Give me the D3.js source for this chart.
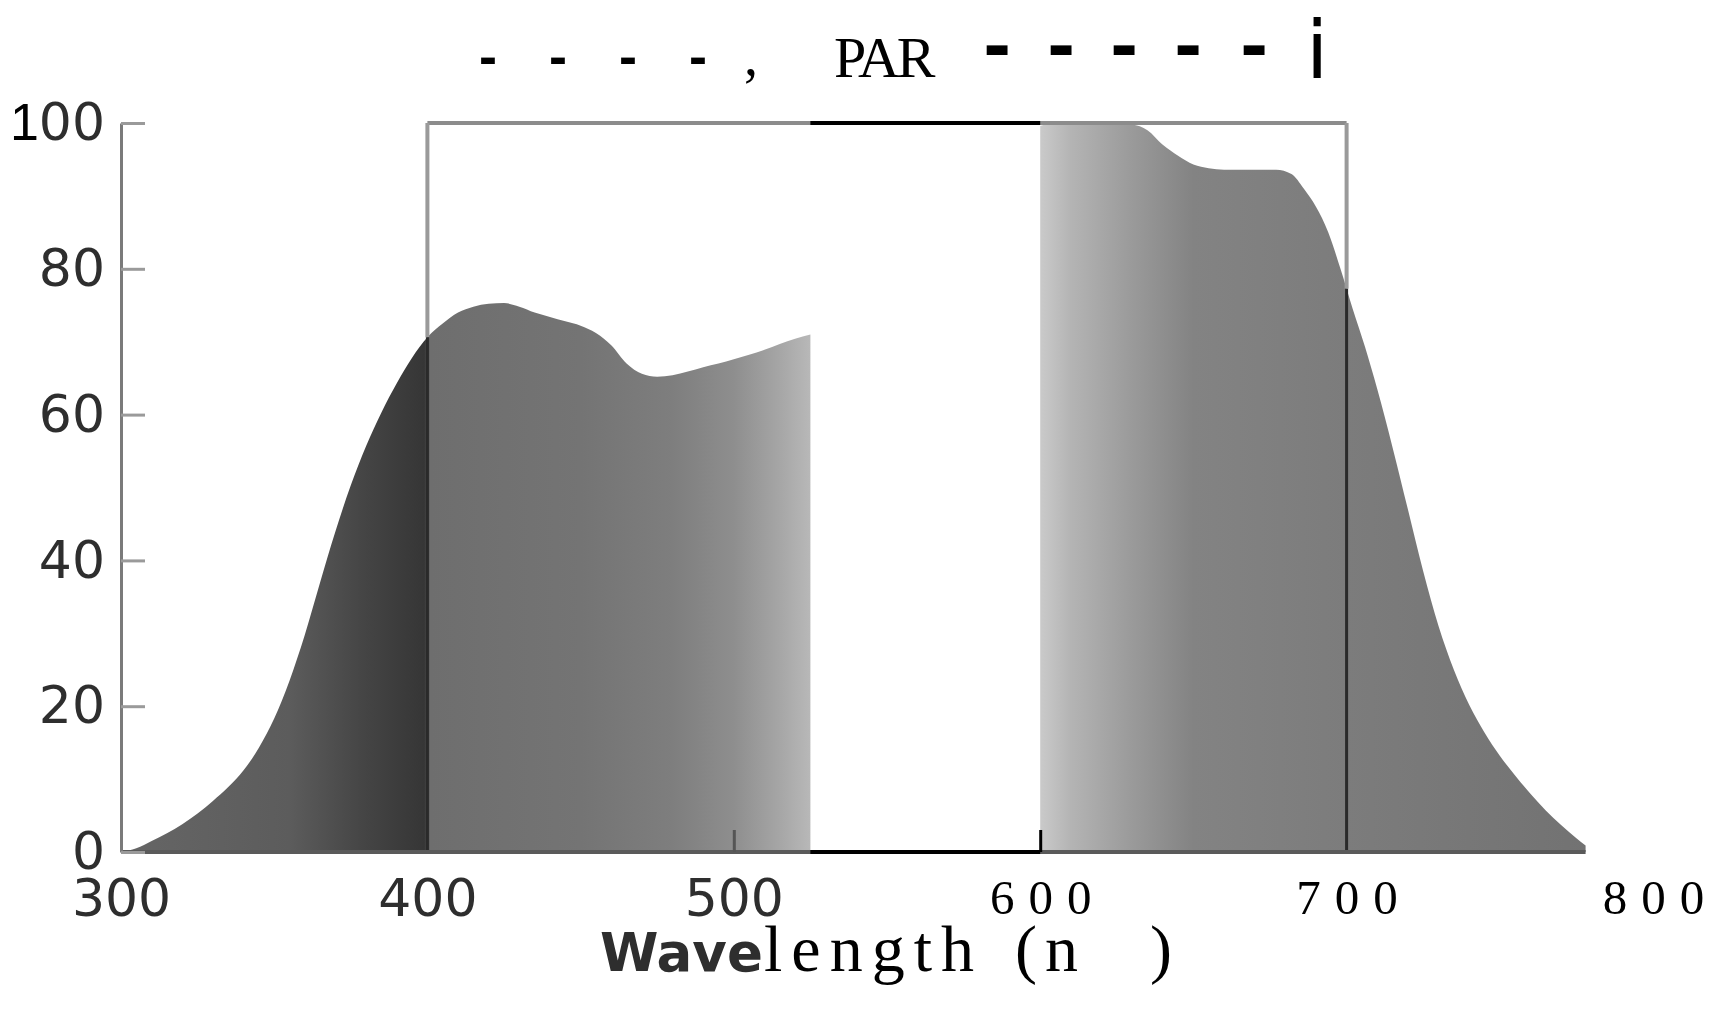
<!DOCTYPE html>
<html lang="en">
  <head>
    <meta charset="utf-8" />
    <script src="https://d3js.org/d3.v7.min.js"></script>
    <style>
      body {
        margin: 0;
        background: white;
      }
    </style>
    <title>PAR</title>
  </head>

  <body>
    <svg id="chart" width="1725" height="1016"></svg>

    <script>
      // left band (300-525 nm) and right band (600-778 nm), values in %
      const leftNm = [300, 305, 310, 320, 330, 335, 340, 345, 350, 355, 360, 365, 370, 375, 380, 385, 390, 395, 400, 405, 410, 415, 420, 425, 430, 435, 440, 445, 450, 455, 460, 465, 470, 475, 480, 485, 490, 495, 500, 505, 510, 515, 520, 525];
      const leftVal = [0, 0.5, 1.5, 3.8, 7, 8.9, 11.2, 14.3, 18.3, 23.5, 29.8, 37, 44, 50.3, 55.7, 60.3, 64.3, 67.8, 70.6, 72.5, 74, 74.8, 75.2, 75.3, 74.8, 74, 73.4, 72.8, 72.2, 71.2, 69.5, 67, 65.6, 65.2, 65.4, 65.9, 66.5, 67, 67.6, 68.2, 68.9, 69.7, 70.4, 71];
      const rightNm = [600, 605, 610, 620, 630, 635, 640, 645, 650, 655, 660, 670, 677, 682, 686, 690, 694, 698, 702, 706, 710, 715, 720, 725, 730, 735, 740, 745, 750, 755, 760, 765, 770, 775, 778];
      const rightVal = [99.6, 100, 100, 100, 99.8, 99, 97, 95.5, 94.3, 93.8, 93.6, 93.6, 93.6, 93, 91, 88.5, 85, 80, 74.5, 69.3, 63.5, 55.5, 47, 38.5, 31, 25, 20.2, 16.4, 13.2, 10.5, 8, 5.7, 3.7, 1.9, 0.9];

      const yTicks = [0, 20, 40, 60, 80, 100];
      const xTicks = [300, 400, 500, 600, 700, 800];
      const parBand = [400, 700];
      const gapBand = [525, 600];

      const svg = d3.select("svg#chart");

      const x = d3.scaleLinear().domain([300, 800]).range([121, 1653]);
      const y = d3.scaleLinear().domain([0, 100]).range([852, 123]);

      // horizontal shading of the fill
      const shade = [
        [300, "#666666"],
        [355, "#5c5c5c"],
        [380, "#444444"],
        [399, "#363636"],
        [401, "#6e6e6e"],
        [450, "#747474"],
        [480, "#7e7e7e"],
        [500, "#8e8e8e"],
        [515, "#a6a6a6"],
        [525, "#b8b8b8"],
        [600, "#cacaca"],
        [610, "#b4b4b4"],
        [630, "#9a9a9a"],
        [650, "#838383"],
        [700, "#7c7c7c"],
        [780, "#727272"],
      ];
      const grad = svg
        .append("defs")
        .append("linearGradient")
        .attr("id", "fillGrad")
        .attr("gradientUnits", "userSpaceOnUse")
        .attr("x1", x(300))
        .attr("x2", x(780))
        .attr("y1", 0)
        .attr("y2", 0);
      grad
        .selectAll("stop")
        .data(shade)
        .join("stop")
        .attr("offset", d => (d[0] - 300) / 480)
        .attr("stop-color", d => d[1]);

      const area = d3
        .area()
        .x(d => x(d[0]))
        .y0(y(0))
        .y1(d => y(d[1]))
        .curve(d3.curveMonotoneX);

      const leftData = leftNm.map((n, i) => [n, leftVal[i]]);
      const rightData = rightNm.map((n, i) => [n, rightVal[i]]);

      [leftData, rightData].forEach(seg => {
        svg
          .append("path")
          .datum(seg)
          .attr("fill", "url(#fillGrad)")
          .attr("d", area);
      });

      // value of the curve at a wavelength (linear between read points)
      const valAt = nm => {
        const seg = nm < 600 ? leftData : rightData;
        const i = d3.bisector(d => d[0]).left(seg, nm);
        if (seg[i][0] === nm || i === 0) return seg[i][1];
        const a = seg[i - 1],
          b = seg[i];
        return a[1] + ((nm - a[0]) / (b[0] - a[0])) * (b[1] - a[1]);
      };

      // PAR frame: top line + side lines
      svg
        .append("line")
        .attr("x1", x(parBand[0]))
        .attr("x2", x(parBand[1]))
        .attr("y1", y(100))
        .attr("y2", y(100))
        .attr("stroke", "#8c8c8c")
        .attr("stroke-width", 4);
      svg
        .append("line")
        .attr("x1", x(gapBand[0]))
        .attr("x2", x(gapBand[1]))
        .attr("y1", y(100))
        .attr("y2", y(100))
        .attr("stroke", "black")
        .attr("stroke-width", 4);

      parBand.forEach(nm => {
        svg
          .append("line")
          .attr("x1", x(nm))
          .attr("x2", x(nm))
          .attr("y1", y(100))
          .attr("y2", y(valAt(nm)))
          .attr("stroke", "#9a9a9a")
          .attr("stroke-width", 4);
        svg
          .append("line")
          .attr("x1", x(nm))
          .attr("x2", x(nm))
          .attr("y1", y(valAt(nm)))
          .attr("y2", y(0))
          .attr("stroke", "#2a2a2a")
          .attr("stroke-width", 3);
      });

      // baseline
      svg
        .append("line")
        .attr("x1", x(300))
        .attr("x2", x(778))
        .attr("y1", y(0))
        .attr("y2", y(0))
        .attr("stroke", "#5a5a5a")
        .attr("stroke-width", 4);
      svg
        .append("line")
        .attr("x1", x(gapBand[0]))
        .attr("x2", x(gapBand[1]))
        .attr("y1", y(0))
        .attr("y2", y(0))
        .attr("stroke", "black")
        .attr("stroke-width", 4);

      // y axis
      const yAxisG = svg
        .append("g")
        .attr("transform", `translate(${x(300)},0)`)
        .call(
          d3
            .axisLeft(y)
            .tickValues(yTicks)
            .tickSizeInner(-24)
            .tickSizeOuter(0)
            .tickPadding(16)
        );
      yAxisG.select(".domain").attr("stroke", "#7a7a7a").attr("stroke-width", 3);
      yAxisG.selectAll(".tick line").attr("stroke", "#9a9a9a").attr("stroke-width", 3);
      yAxisG
        .selectAll(".tick text")
        .attr("font-family", "DejaVu Sans")
        .attr("font-size", 52)
        .attr("fill", "#2e2e2e");
      yAxisG
        .selectAll(".tick text")
        .filter(d => d === 100)
        .text(null)
        .call(t => {
          t.append("tspan").attr("fill", "black").attr("font-family", "Liberation Sans").text("1");
          t.append("tspan").text("00");
        });

      // x axis
      const xAxisG = svg
        .append("g")
        .attr("transform", `translate(0,${y(0)})`)
        .call(
          d3
            .axisBottom(x)
            .tickValues(xTicks)
            .tickSizeInner(-22)
            .tickSizeOuter(0)
            .tickPadding(27)
            .tickFormat(d3.format("d"))
        );
      xAxisG.select(".domain").remove();
      xAxisG
        .selectAll(".tick line")
        .attr("stroke", d => (d === 600 ? "black" : "#555"))
        .attr("stroke-width", 3)
        .attr("opacity", d => (d === 500 || d === 600 ? 1 : 0));
      xAxisG
        .selectAll(".tick text")
        .filter(d => d < 600)
        .attr("font-family", "DejaVu Sans")
        .attr("font-size", 52)
        .attr("fill", "#2e2e2e");
      xAxisG
        .selectAll(".tick text")
        .filter(d => d >= 600)
        .attr("font-family", "Liberation Serif")
        .attr("font-size", 49)
        .attr("letter-spacing", 14)
        .attr("dx", 7)
        .attr("fill", "black");

      // x axis title
      svg
        .append("text")
        .attr("x", 600)
        .attr("y", 971)
        .attr("font-family", "DejaVu Sans")
        .attr("font-weight", "bold")
        .attr("font-size", 53)
        .attr("fill", "#2e2e2e")
        .text("Wave");
      svg
        .append("text")
        .attr("x", 764)
        .attr("y", 971)
        .attr("font-family", "Liberation Serif")
        .attr("font-size", 66)
        .attr("letter-spacing", 9)
        .attr("fill", "black")
        .text("length");
      svg
        .append("text")
        .attr("x", 1015)
        .attr("y", 971)
        .attr("font-family", "Liberation Serif")
        .attr("font-size", 66)
        .attr("letter-spacing", 8)
        .attr("fill", "black")
        .text("(n");
      svg
        .append("text")
        .attr("x", 1150)
        .attr("y", 971)
        .attr("font-family", "Liberation Serif")
        .attr("font-size", 66)
        .attr("fill", "black")
        .text(")");

      // title
      const title = svg.append("g").attr("fill", "black");
      [488, 558, 628, 698].forEach(cx => {
        title
          .append("text")
          .attr("x", cx)
          .attr("y", 75)
          .attr("text-anchor", "middle")
          .attr("font-family", "Liberation Sans")
          .attr("font-weight", "bold")
          .attr("font-size", 54)
          .text("-");
      });
      title
        .append("text")
        .attr("x", 751)
        .attr("y", 75)
        .attr("text-anchor", "middle")
        .attr("font-family", "Liberation Serif")
        .attr("font-size", 56)
        .text(",");
      title
        .append("text")
        .attr("x", 834)
        .attr("y", 77)
        .attr("font-family", "Liberation Serif")
        .attr("font-size", 58)
        .attr("letter-spacing", -3)
        .text("PAR");
      [997, 1061, 1124, 1188, 1254].forEach(cx => {
        title
          .append("text")
          .attr("x", cx)
          .attr("y", 70)
          .attr("text-anchor", "middle")
          .attr("font-family", "DejaVu Sans")
          .attr("font-weight", "bold")
          .attr("font-size", 68)
          .text("-");
      });
      title
        .append("text")
        .attr("x", 1317)
        .attr("y", 78)
        .attr("text-anchor", "middle")
        .attr("font-family", "DejaVu Sans")
        .attr("font-size", 80)
        .text("i");
    </script>
  </body>
</html>
